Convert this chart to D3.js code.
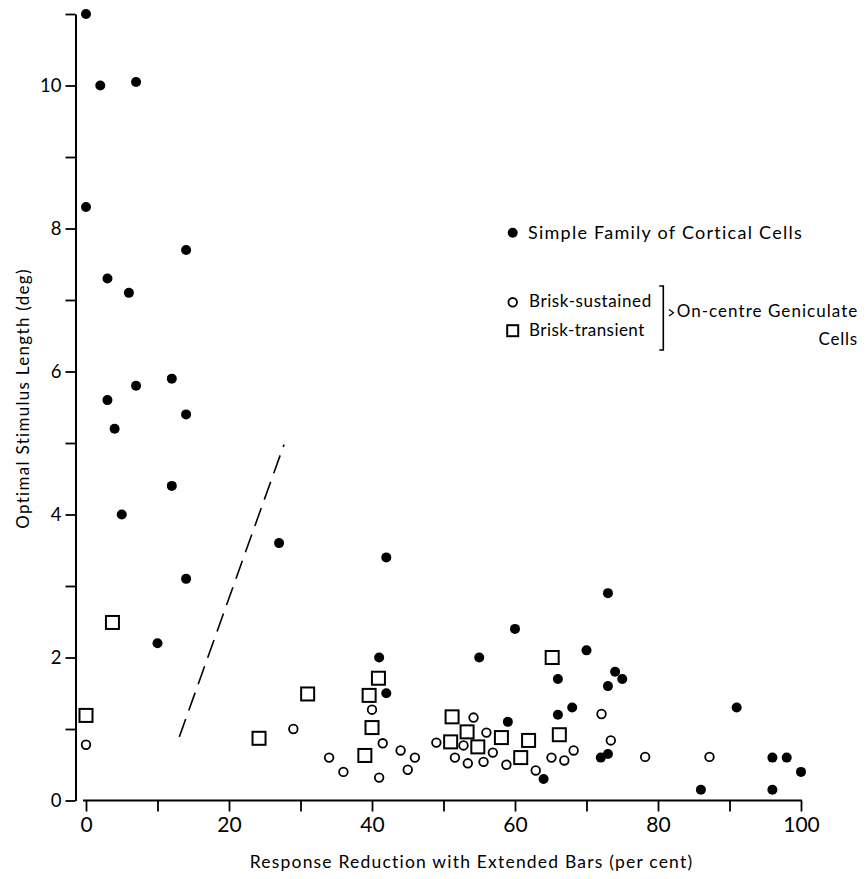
<!DOCTYPE html>
<html>
<head>
<meta charset="utf-8">
<script src="https://cdn.jsdelivr.net/npm/d3@7"></script>
<style>
  html, body { margin: 0; padding: 0; background: #fff; }
  svg { display: block; }
  text { font-family: "Lato", "DejaVu Sans", sans-serif; fill: #000; }
</style>
</head>
<body>
<svg id="chart" width="867" height="879"></svg>
<script>
// ---- Data ----
// Simple family of cortical cells: [response reduction %, optimal length deg]
const simpleCells = [
  [0, 11.0], [2, 10.0], [7, 10.05], [0, 8.3], [14, 7.7], [3, 7.3], [6, 7.1],
  [7, 5.8], [12, 5.9], [3, 5.6], [14, 5.4], [4, 5.2], [12, 4.4], [5, 4.0],
  [27, 3.6], [14, 3.1], [10, 2.2], [42, 3.4], [60, 2.4], [55, 2.0], [41, 2.0],
  [42, 1.5], [66, 1.7], [68, 1.3], [66, 1.2], [59, 1.1], [64, 0.3], [73, 2.9],
  [70, 2.1], [74, 1.8], [75, 1.7], [73, 1.6], [91, 1.3], [72, 0.6], [73, 0.65],
  [96, 0.6], [98, 0.6], [100, 0.4], [86, 0.15], [96, 0.15]
];
// Brisk-sustained geniculate cells
const briskSustained = [
  [0, 0.78], [29, 1.0], [34, 0.6], [36, 0.4], [40, 1.27], [41.5, 0.8], [41, 0.32],
  [44, 0.7], [46, 0.6], [45, 0.43], [49, 0.81], [51.6, 0.6], [52.8, 0.77],
  [53.4, 0.52], [54.2, 1.16], [56, 0.95], [55.6, 0.54], [56.9, 0.67], [58.8, 0.5],
  [62.9, 0.42], [65.1, 0.6], [66.9, 0.56], [68.2, 0.7], [72.1, 1.21], [73.4, 0.84],
  [78.2, 0.61], [87.2, 0.61]
];
// Brisk-transient geniculate cells
const briskTransient = [
  [0, 1.19], [3.7, 2.49], [24.2, 0.87], [31, 1.49], [40.9, 1.71], [39.6, 1.47],
  [40, 1.02], [39, 0.63], [51.2, 1.17], [51, 0.82], [53.3, 0.96], [54.8, 0.75],
  [58.1, 0.88], [61.9, 0.84], [60.8, 0.6], [65.2, 2.0], [66.2, 0.92]
];
// Dashed dividing line
const dividerLine = [[13.05, 0.89], [27.7, 4.98]];

const xTicks = [0, 10, 20, 30, 40, 50, 60, 70, 80, 90, 100];
const xTickLabels = ["0", "", "20", "", "40", "", "60", "", "80", "", "100"];
const yTicks = [0, 1, 2, 3, 4, 5, 6, 7, 8, 9, 10, 11];
const yTickLabels = ["0", "", "2", "", "4", "", "6", "", "8", "", "10", ""];

const xTitle = "Response Reduction with Extended Bars (per cent)";
const yTitle = "Optimal Stimulus Length (deg)";
const legendSimple = "Simple Family of Cortical Cells";
const legendSustained = "Brisk-sustained";
const legendTransient = "Brisk-transient";
const legendGroup = ["On-centre Geniculate", "Cells"];

// ---- Drawing ----
const svg = d3.select("#chart");
const x = d3.scaleLinear().domain([0, 100]).range([86, 801]);
const y = d3.scaleLinear().domain([0, 11]).range([800.5, 14]);
const yAxisX = 75.5;

// Y axis
const yAxis = d3.axisLeft(y)
  .tickValues(yTicks)
  .tickSize(10)
  .tickSizeOuter(0)
  .tickPadding(4)
  .tickFormat((d, i) => yTickLabels[i]);
const gy = svg.append("g").attr("transform", `translate(${yAxisX},0)`).call(yAxis);
gy.select(".domain").attr("stroke-width", 2);
gy.selectAll(".tick line").attr("stroke-width", 1.8);
gy.selectAll(".tick text").attr("font-size", 18.5).attr("font-family", "Lato");

// X axis
const xAxis = d3.axisBottom(x)
  .tickValues(xTicks)
  .tickSize(11)
  .tickSizeOuter(0)
  .tickPadding(6)
  .tickFormat((d, i) => xTickLabels[i]);
const gx = svg.append("g").attr("transform", `translate(0,${y(0)})`).call(xAxis);
gx.select(".domain").remove();
gx.append("line").attr("x1", x(0) - 3).attr("x2", x(100) + 1)
  .attr("y1", 0).attr("y2", 0).attr("stroke", "#000").attr("stroke-width", 2);
gx.selectAll(".tick line").attr("stroke-width", 1.8);
gx.selectAll(".tick text").attr("font-size", 21).attr("font-family", "Lato");

// Axis titles
svg.append("text")
  .attr("x", (250 + 693) / 2).attr("y", 868)
  .attr("text-anchor", "middle").attr("font-size", 17.5)
  .attr("letter-spacing", 1.2)
  .text(xTitle);
svg.append("text")
  .attr("transform", `translate(29,398.5) rotate(-90)`)
  .attr("text-anchor", "middle").attr("font-size", 17)
  .attr("letter-spacing", 1.3)
  .text(yTitle);

// Divider dashed line
svg.append("path")
  .attr("d", d3.line().x(d => x(d[0])).y(d => y(d[1]))(dividerLine))
  .attr("fill", "none").attr("stroke", "#000").attr("stroke-width", 1.6)
  .attr("stroke-dasharray", "19,9");

// Markers
const sq = 13;
svg.append("g").selectAll("rect").data(briskTransient).join("rect")
  .attr("x", d => x(d[0]) - sq / 2).attr("y", d => y(d[1]) - sq / 2)
  .attr("width", sq).attr("height", sq)
  .attr("fill", "#fff").attr("stroke", "#000").attr("stroke-width", 2);
svg.append("g").selectAll("circle").data(briskSustained).join("circle")
  .attr("cx", d => x(d[0])).attr("cy", d => y(d[1])).attr("r", 4.3)
  .attr("fill", "#fff").attr("stroke", "#000").attr("stroke-width", 1.8);
svg.append("g").selectAll("circle").data(simpleCells).join("circle")
  .attr("cx", d => x(d[0])).attr("cy", d => y(d[1])).attr("r", 5)
  .attr("fill", "#000");

// Legend
const lg = svg.append("g");
lg.append("circle").attr("cx", 512.7).attr("cy", 232.7).attr("r", 5).attr("fill", "#000");
lg.append("text").attr("x", 528).attr("y", 238.7).attr("font-size", 18)
  .attr("letter-spacing", 1.26).text(legendSimple);
lg.append("circle").attr("cx", 512.7).attr("cy", 302.3).attr("r", 4.3)
  .attr("fill", "#fff").attr("stroke", "#000").attr("stroke-width", 1.8);
lg.append("text").attr("x", 529).attr("y", 307.3).attr("font-size", 17)
  .attr("letter-spacing", 0.6).text(legendSustained);
lg.append("rect").attr("x", 507.2).attr("y", 325.2).attr("width", 11).attr("height", 11)
  .attr("fill", "#fff").attr("stroke", "#000").attr("stroke-width", 2);
lg.append("text").attr("x", 529).attr("y", 335.7).attr("font-size", 17)
  .attr("letter-spacing", 0.45).text(legendTransient);
// bracket
lg.append("path").attr("d", "M659.3,286 H663.3 V350 H659.3")
  .attr("fill", "none").attr("stroke", "#000").attr("stroke-width", 1.6);
lg.append("path").attr("d", "M669,309.5 L673.5,312.7 L669,316")
  .attr("fill", "none").attr("stroke", "#000").attr("stroke-width", 1.2);
lg.append("text").attr("x", 676.7).attr("y", 317.3).attr("font-size", 17)
  .attr("letter-spacing", 1.05).text(legendGroup[0]);
lg.append("text").attr("x", 858).attr("y", 345).attr("font-size", 17)
  .attr("text-anchor", "end").attr("letter-spacing", 0.8).text(legendGroup[1]);
</script>
</body>
</html>
